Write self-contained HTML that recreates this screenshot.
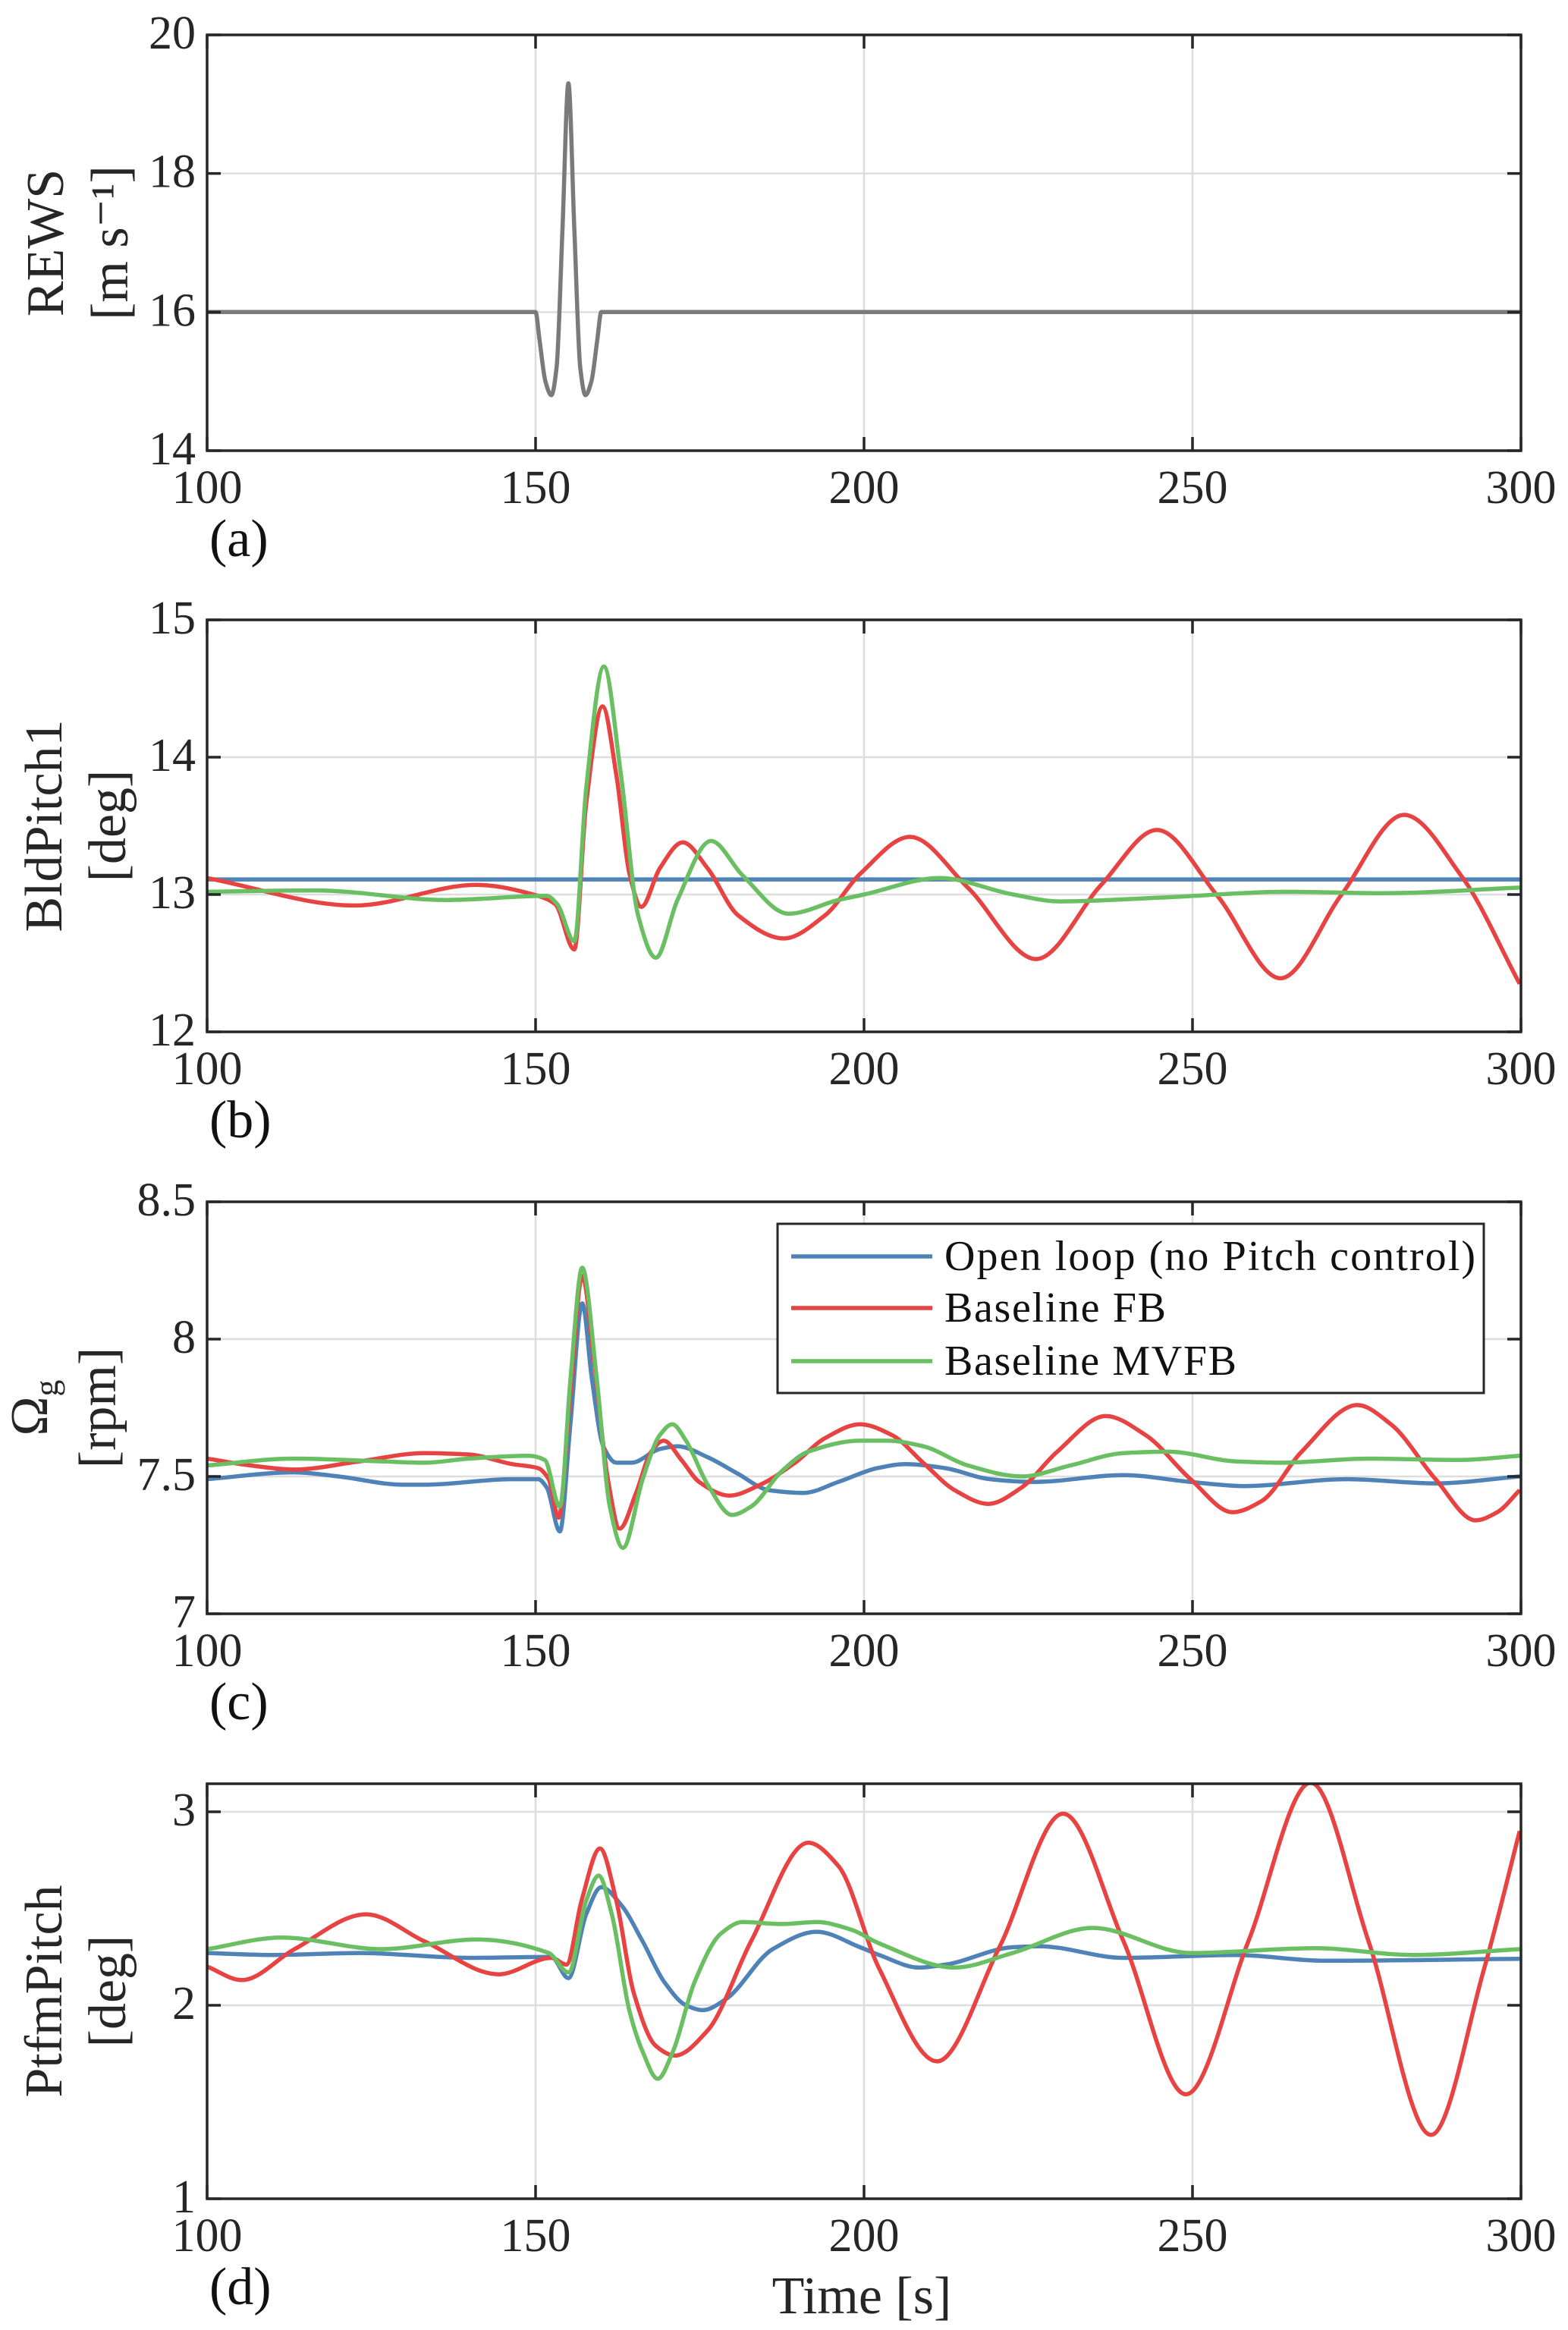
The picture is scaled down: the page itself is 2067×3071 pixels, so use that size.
<!DOCTYPE html>
<html><head><meta charset="utf-8">
<style>
html,body{margin:0;padding:0;background:#fff;}
svg{display:block;font-family:"Liberation Serif","DejaVu Serif",serif;}
svg text{font-family:"Liberation Serif","DejaVu Serif",serif;}
.tick{font-size:62px;fill:#262626;font-family:"Liberation Serif",serif;}
.ylab{font-size:70px;fill:#262626;font-family:"Liberation Serif",serif;}
.plab{font-size:70px;fill:#111;font-family:"Liberation Serif",serif;}
.leg{font-size:56px;fill:#111;font-family:"Liberation Serif",serif;}
</style></head>
<body>
<svg id="fig" width="2067" height="3071" viewBox="0 0 2067 3071" xmlns="http://www.w3.org/2000/svg" font-family="Liberation Serif, serif"></svg>
<script>
// ---------- data ----------
const xTicks = [100,150,200,250,300];

const rewsT = [100,150,150.6,151.5,152.4,153.2,154.1,155,155.9,156.8,157.6,158.5,159.4,160,300];
const rewsV = [16,16,15.6,15.0,14.8,15.2,17.2,19.3,17.2,15.2,14.8,15.0,15.6,16,16];

const pitchOpenT = [100,300];
const pitchOpenV = [13.11,13.11];
const pitchFbT = [100,122.5,141,150.4,153,155.9,157.7,160.2,162.3,164.3,166.1,168.9,172.4,176.2,180.8,187.8,194.1,199.4,207,215.8,226.2,236.1,244.6,253.8,263.4,272.7,282.2,291,299.8];
const pitchFbV = [13.12,12.92,13.07,12.99,12.93,12.60,13.66,14.37,13.87,13.15,12.91,13.19,13.38,13.19,12.85,12.68,12.85,13.15,13.42,13.05,12.53,13.07,13.47,12.99,12.39,13.0,13.58,13.13,12.35];
const pitchMvT = [100,116.6,136.4,151.7,153.3,155.9,157.7,160.4,163,165.6,168.3,171.6,176.7,181.5,188.5,196.1,200,211.5,222.7,229.8,246.3,264,278.8,299.8];
const pitchMvV = [13.02,13.03,12.96,12.99,12.93,12.66,13.77,14.66,13.87,12.85,12.54,12.96,13.39,13.14,12.86,12.96,13.0,13.12,13.0,12.95,12.98,13.02,13.01,13.05];

const genOpenT = [100,113.3,120,129.8,133.1,146.4,150.4,151.7,153.7,155.3,157.1,158.6,160.3,162.3,164.6,168.9,171.6,176.2,180.8,185.5,190.8,196.1,202,206.3,212.4,219.2,226,239.5,249.7,257.8,273.4,287,299.8];
const genOpenV = [7.49,7.515,7.50,7.47,7.47,7.49,7.49,7.46,7.30,7.69,8.13,7.85,7.61,7.55,7.55,7.60,7.61,7.57,7.51,7.45,7.44,7.48,7.53,7.545,7.53,7.49,7.48,7.505,7.48,7.465,7.49,7.475,7.50];
const genFbT = [100,106.6,113.3,123.2,133.1,139.8,146.4,150.4,152,153.5,155.3,157.1,159,161,162.8,165.3,167.6,169.5,172.2,174.9,179.5,184.2,189.5,194.1,199.4,204.3,209,213.8,218.9,224,229.4,236.8,242.9,249.7,256.1,260.5,266.6,275.1,280.2,287,293.1,296.4,299.8];
const genFbV = [7.565,7.54,7.525,7.555,7.585,7.58,7.545,7.53,7.49,7.35,7.80,8.23,7.90,7.49,7.31,7.44,7.59,7.63,7.56,7.48,7.43,7.47,7.55,7.64,7.69,7.65,7.55,7.45,7.40,7.46,7.59,7.72,7.65,7.49,7.37,7.41,7.59,7.76,7.69,7.49,7.34,7.37,7.45];
const genMvT = [100,113.3,126.5,133.1,139.8,149,151.4,153.7,155.3,157.1,159.3,161.3,163.3,166.3,168.9,170.8,172.9,176.2,179.9,182.8,187.5,191.5,199.4,203.6,209,215.8,224,231.4,239.5,246.3,256.5,263.3,276.8,290.4,299.8];
const genMvV = [7.54,7.565,7.555,7.55,7.565,7.575,7.56,7.39,7.85,8.26,7.86,7.39,7.24,7.49,7.65,7.69,7.63,7.47,7.36,7.39,7.52,7.59,7.63,7.63,7.61,7.54,7.50,7.54,7.585,7.59,7.555,7.55,7.565,7.56,7.575];

const ptfmOpenT = [100,109.9,123.2,139.8,152.4,155,157.7,160,163,166.3,169.6,172.9,175.5,178.9,186.1,192.8,199.4,202.3,208.4,212.4,222.6,226.7,239.5,256.5,270,299.8];
const ptfmOpenV = [2.27,2.26,2.27,2.245,2.25,2.14,2.47,2.61,2.52,2.33,2.12,2.0,1.975,2.03,2.29,2.38,2.30,2.26,2.195,2.21,2.30,2.305,2.245,2.26,2.23,2.24];
const ptfmFbT = [100,105.3,113.3,124.2,133.1,144.4,152.4,154.7,157,159.8,162.3,164.9,168.3,171.2,176.2,182.8,191.5,196.1,202.3,211.1,220.6,230.3,239.5,249,258.5,268,276.8,286.3,294.4,299.8];
const ptfmFbV = [2.20,2.13,2.29,2.47,2.33,2.16,2.245,2.21,2.54,2.81,2.54,2.07,1.79,1.74,1.87,2.33,2.84,2.72,2.19,1.71,2.30,2.99,2.33,1.54,2.33,3.15,2.33,1.33,2.19,2.90];
const ptfmMvT = [100,111.3,126.5,141.1,152,155,157.7,159.6,161.6,164.3,166.3,168.6,170.9,174.2,178.2,181.5,187.5,192.8,198.1,202.3,213.8,222.6,234.8,249.7,268.7,283.6,299.8];
const ptfmMvV = [2.29,2.35,2.29,2.34,2.27,2.17,2.54,2.67,2.47,1.97,1.76,1.62,1.76,2.12,2.37,2.43,2.42,2.43,2.39,2.32,2.195,2.27,2.40,2.27,2.295,2.26,2.29];

// ---------- layout ----------
const X0 = 273, X1 = 2005;
const C_BLUE = '#4f83b7', C_RED = '#e84343', C_GREEN = '#6abf62', C_GRAY = '#7a7a7a';
const panels = [
  {id:'a', top:46, bot:594, ymin:14, ymax:20, yticks:[14,16,18,20], ylab:['REWS','[m s⁻¹]'], lx:[83,168],
   series:[{t:rewsT,v:rewsV,c:C_GRAY,n:'rews-line'}]},
  {id:'b', top:817, bot:1360, ymin:12, ymax:15, yticks:[12,13,14,15], ylab:['BldPitch1','[deg]'], lx:[81,165],
   series:[{t:pitchOpenT,v:pitchOpenV,c:C_BLUE,n:'open-loop-line'},{t:pitchFbT,v:pitchFbV,c:C_RED,n:'baseline-fb-line'},{t:pitchMvT,v:pitchMvV,c:C_GREEN,n:'baseline-mvfb-line'}]},
  {id:'c', top:1584, bot:2127, ymin:7, ymax:8.5, yticks:[7,7.5,8,8.5], ylab:['Ω','[rpm]'], lx:[62,152],
   series:[{t:genOpenT,v:genOpenV,c:C_BLUE,n:'open-loop-line'},{t:genFbT,v:genFbV,c:C_RED,n:'baseline-fb-line'},{t:genMvT,v:genMvV,c:C_GREEN,n:'baseline-mvfb-line'}]},
  {id:'d', top:2351, bot:2898, ymin:1, ymax:3.145, yticks:[1,2,3], ylab:['PtfmPitch','[deg]'], lx:[81,165],
   series:[{t:ptfmOpenT,v:ptfmOpenV,c:C_BLUE,n:'open-loop-line'},{t:ptfmFbT,v:ptfmFbV,c:C_RED,n:'baseline-fb-line'},{t:ptfmMvT,v:ptfmMvV,c:C_GREEN,n:'baseline-mvfb-line'}]}
];

const NS = 'http://www.w3.org/2000/svg';
const svg = document.getElementById('fig');
function mk(tag, attrs, parent){
  const e = document.createElementNS(NS, tag);
  for (const k in attrs) e.setAttribute(k, attrs[k]);
  if (tag === 'text') e.setAttribute('font-family', 'Liberation Serif, serif');
  (parent||svg).appendChild(e);
  return e;
}
const xs = t => X0 + (t-100)/200*(X1-X0);

function pchipPath(px, py){
  const n = px.length;
  if (n < 3){ return 'M'+px.map((x,i)=>x.toFixed(1)+','+py[i].toFixed(1)).join(' L'); }
  const h=[], d=[];
  for (let i=0;i<n-1;i++){ h.push(px[i+1]-px[i]); d.push((py[i+1]-py[i])/h[i]); }
  const m = new Array(n).fill(0);
  for (let i=1;i<n-1;i++){
    if (d[i-1]*d[i] > 0){
      const w1 = 2*h[i]+h[i-1], w2 = h[i]+2*h[i-1];
      m[i] = (w1+w2)/(w1/d[i-1] + w2/d[i]);
    }
  }
  m[0] = d[0]; m[n-1] = d[n-2];
  let s = 'M'+px[0].toFixed(1)+','+py[0].toFixed(1);
  for (let i=0;i<n-1;i++){
    const c1x = px[i]+h[i]/3, c1y = py[i]+m[i]*h[i]/3;
    const c2x = px[i+1]-h[i]/3, c2y = py[i+1]-m[i+1]*h[i]/3;
    s += ' C'+c1x.toFixed(1)+','+c1y.toFixed(1)+' '+c2x.toFixed(1)+','+c2y.toFixed(1)+' '+px[i+1].toFixed(1)+','+py[i+1].toFixed(1);
  }
  return s;
}

panels.forEach(p => {
  const ys = v => p.bot - (v-p.ymin)/(p.ymax-p.ymin)*(p.bot-p.top);
  const g = mk('g', {});
  
  
  xTicks.forEach(t => {
    if (t===100 || t===300) return;
    const l = mk('line', {x1:xs(t), x2:xs(t), y1:p.top, y2:p.bot, stroke:'#dedede', 'stroke-width':2.5}, g);
    
    
  });
  p.yticks.forEach(v => {
    const y = ys(v);
    if (Math.abs(y-p.top)<2 || Math.abs(y-p.bot)<2) return;
    const l = mk('line', {x1:X0, x2:X1, y1:y, y2:y, stroke:'#dedede', 'stroke-width':2.5}, g);
    
    
  });
  const clipId = 'clip'+p.id;
  const cp = mk('clipPath', {id:clipId}, g);
  mk('rect', {x:X0, y:p.top, width:X1-X0, height:p.bot-p.top}, cp);
  p.series.forEach(s => {
    const px = s.t.map(xs), py = s.v.map(ys);
    const path = mk('path', {d:pchipPath(px,py), fill:'none', stroke:s.c, 'stroke-width':5.5, 'stroke-linejoin':'round', 'clip-path':'url(#'+clipId+')'}, g);
    
    
  });
  const box = mk('rect', {x:X0, y:p.top, width:X1-X0, height:p.bot-p.top, fill:'none', stroke:'#262626', 'stroke-width':3.5}, g);
  
  
  xTicks.forEach(t => {
    const x = xs(t);
    mk('line', {x1:x,x2:x,y1:p.bot,y2:p.bot-18,stroke:'#262626','stroke-width':3.5}, g);
    mk('line', {x1:x,x2:x,y1:p.top,y2:p.top+18,stroke:'#262626','stroke-width':3.5}, g);
    const tx = mk('text', {x:x, y:p.bot+69, 'text-anchor':'middle', class:'tick'}, g);
    tx.textContent = t;
    
    
  });
  p.yticks.forEach(v => {
    const y = ys(v);
    mk('line', {x1:X0,x2:X0+18,y1:y,y2:y,stroke:'#262626','stroke-width':3.5}, g);
    mk('line', {x1:X1,x2:X1-18,y1:y,y2:y,stroke:'#262626','stroke-width':3.5}, g);
    const tx = mk('text', {x:258, y:y+18, 'text-anchor':'end', class:'tick'}, g);
    tx.textContent = v;
    
    
  });
  const cy = (p.top+p.bot)/2;
  const l1 = mk('text', {x:0, y:0, 'text-anchor':'middle', class:'ylab', transform:'translate('+p.lx[0]+','+cy+') rotate(-90)'}, g);
  l1.textContent = p.ylab[0];
  if (p.id==='c'){
    const sub = mk('tspan', {'font-size':'44px', dy:'14'}, l1);
    sub.textContent = 'g';
  }
  
  
  const l2 = mk('text', {x:0, y:0, 'text-anchor':'middle', class:'ylab', transform:'translate('+p.lx[1]+','+cy+') rotate(-90)'}, g);
  l2.textContent = p.ylab[1];
  
  
  const pl = mk('text', {x:276, y:p.bot+139, class:'plab'}, g);
  pl.textContent = '('+p.id+')';
  
  
});

const xt = mk('text', {x:1136, y:3049, 'text-anchor':'middle', class:'ylab'});
xt.textContent = 'Time [s]';



const legNames = ['Open loop (no Pitch control)','Baseline FB','Baseline MVFB'];
const legColors = [C_BLUE, C_RED, C_GREEN];
const lg = mk('g', {});


mk('rect', {x:1025, y:1613, width:931, height:223, fill:'#fff', stroke:'#262626', 'stroke-width':3}, lg);
const legY = [1656, 1724, 1794];
legNames.forEach((nm,i) => {
  const e = mk('g', {}, lg);
  
  
  mk('line', {x1:1043, x2:1229, y1:legY[i], y2:legY[i], stroke:legColors[i], 'stroke-width':5.5}, e);
  const t = mk('text', {x:1245, y:legY[i]+18, class:'leg'}, e);
  t.textContent = nm;
  if (i===0) t.setAttribute('textLength', '700');
  if (i===1) t.setAttribute('textLength', '292');
  if (i===2) t.setAttribute('textLength', '385');
});
</script>
</body></html>
